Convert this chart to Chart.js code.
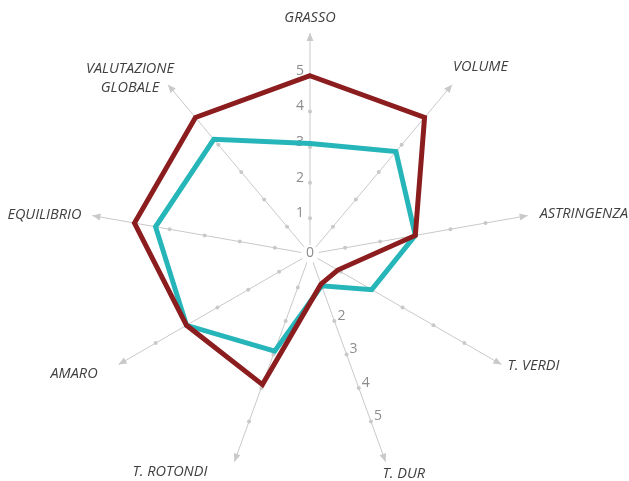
<!DOCTYPE html>
<html>
<head>
<meta charset="utf-8">
<script src="https://cdn.jsdelivr.net/npm/chart.js@4.4.0/dist/chart.umd.min.js"></script>
<style>
  html, body { margin: 0; padding: 0; background: #fff; }
  canvas { display: block; }
</style>
</head>
<body>
<canvas id="radarChart" width="629" height="481"></canvas>
<script>
// Axes, clockwise from the top
const categories = ['GRASSO', 'VOLUME', 'ASTRINGENZA', 'T. VERDI', 'T. DUR', 'T. ROTONDI', 'AMARO', 'EQUILIBRIO', ['VALUTAZIONE', 'GLOBALE']];
const seriesRed  = [5.0, 5.0, 3.0, 0.9, 0.9, 3.9, 4.0, 5.0, 5.0];
const seriesTeal = [3.1, 3.75, 3.0, 2.0, 0.95, 2.9, 4.0, 4.4, 4.2];
const tickLabels = [0, 1, 2, 3, 4, 5];
const durTickLabels = [2, 3, 4, 5];
const axisMax = 6.2;

const COL_RED = '#8C1D1F';
const COL_TEAL = '#26B5B9';
const COL_AXIS = '#c9c9c9';
const COL_TICK = '#8c8c8c';
const COL_LABEL = '#404040';

// label placement relative to the arrow tip of each axis: [dx, dy, align]
const labelOffsets = [
  [0, -15, 'center'],
  [1, -18, 'left'],
  [12, -2, 'left'],
  [6, 1, 'left'],
  [-3, 12, 'left'],
  [-27, 10, 'right'],
  [-21, 9, 'right'],
  [-11, -1, 'right'],
  [-38, -6, 'center']
];

/* ============================================================
   AXIS DECORATION - arrows, tick dots, tick labels, axis names
   ============================================================ */
const axisDecor = {
  id: 'axisDecor',
  beforeDatasetsDraw(chart) {
    const scale = chart.scales.r;
    const ctx = chart.ctx;
    const n = chart.data.labels.length;
    const R = scale.getDistanceFromCenterForValue(axisMax);

    ctx.save();
    // white gap round the centre
    ctx.fillStyle = '#fff';
    ctx.beginPath();
    ctx.arc(scale.xCenter, scale.yCenter, 9, 0, Math.PI * 2);
    ctx.fill();

    for (let i = 0; i < n; i++) {
      const tip = scale.getPointPosition(i, R);
      const a = tip.angle;
      const cos = Math.cos(a), sin = Math.sin(a);
      // arrow head
      ctx.fillStyle = COL_AXIS;
      ctx.beginPath();
      ctx.moveTo(tip.x, tip.y);
      ctx.lineTo(tip.x - 8 * cos - 3.5 * sin, tip.y - 8 * sin + 3.5 * cos);
      ctx.lineTo(tip.x - 8 * cos + 3.5 * sin, tip.y - 8 * sin - 3.5 * cos);
      ctx.closePath();
      ctx.fill();
      // tick dots
      tickLabels.slice(1).forEach(v => {
        const p = scale.getPointPosition(i, scale.getDistanceFromCenterForValue(v));
        ctx.beginPath();
        ctx.arc(p.x, p.y, 2, 0, Math.PI * 2);
        ctx.fill();
      });
    }

    // tick labels
    ctx.font = '14px "Open Sans"';
    ctx.fillStyle = COL_TICK;
    ctx.textAlign = 'center';
    ctx.textBaseline = 'middle';
    ctx.fillText('0', scale.xCenter, scale.yCenter - 1);
    tickLabels.slice(1).forEach(v => {
      const p = scale.getPointPosition(0, scale.getDistanceFromCenterForValue(v));
      ctx.fillText(String(v), p.x - 10, p.y - 5);
    });
    durTickLabels.forEach(v => {
      const p = scale.getPointPosition(4, scale.getDistanceFromCenterForValue(v));
      ctx.fillText(String(v), p.x + 7, p.y - 5);
    });

    // axis names
    ctx.font = 'italic 14.5px "Open Sans"';
    ctx.fillStyle = COL_LABEL;
    for (let i = 0; i < n; i++) {
      const tip = scale.getPointPosition(i, R);
      const [dx, dy, align] = labelOffsets[i];
      const lines = [].concat(chart.data.labels[i]);
      ctx.textAlign = align;
      lines.forEach((t, k) => {
        const off = (k - (lines.length - 1) / 2) * 19;
        ctx.fillText(t, tip.x + dx, tip.y + dy + off);
      });
    }
    ctx.restore();
  }
};

new Chart(document.getElementById('radarChart'), {
  type: 'radar',
  data: {
    labels: categories,
    datasets: [
      { label: 'A', data: seriesRed,  borderColor: COL_RED,  borderWidth: 5, borderJoinStyle: 'miter', fill: false, pointRadius: 0, tension: 0 },
      { label: 'B', data: seriesTeal, borderColor: COL_TEAL, borderWidth: 5, borderJoinStyle: 'miter', fill: false, pointRadius: 0, tension: 0 }
    ]
  },
  options: {
    responsive: false,
    animation: false,
    layout: { padding: { top: 33, bottom: 6, left: 0, right: 9 } },
    plugins: { legend: { display: false }, tooltip: { enabled: false } },
    scales: {
      r: {
        min: 0,
        max: axisMax,
        grid: { display: false },
        angleLines: { display: true, color: COL_AXIS, lineWidth: 1 },
        ticks: { display: false },
        pointLabels: { display: false }
      }
    }
  },
  plugins: [axisDecor]
});
</script>
</body>
</html>
